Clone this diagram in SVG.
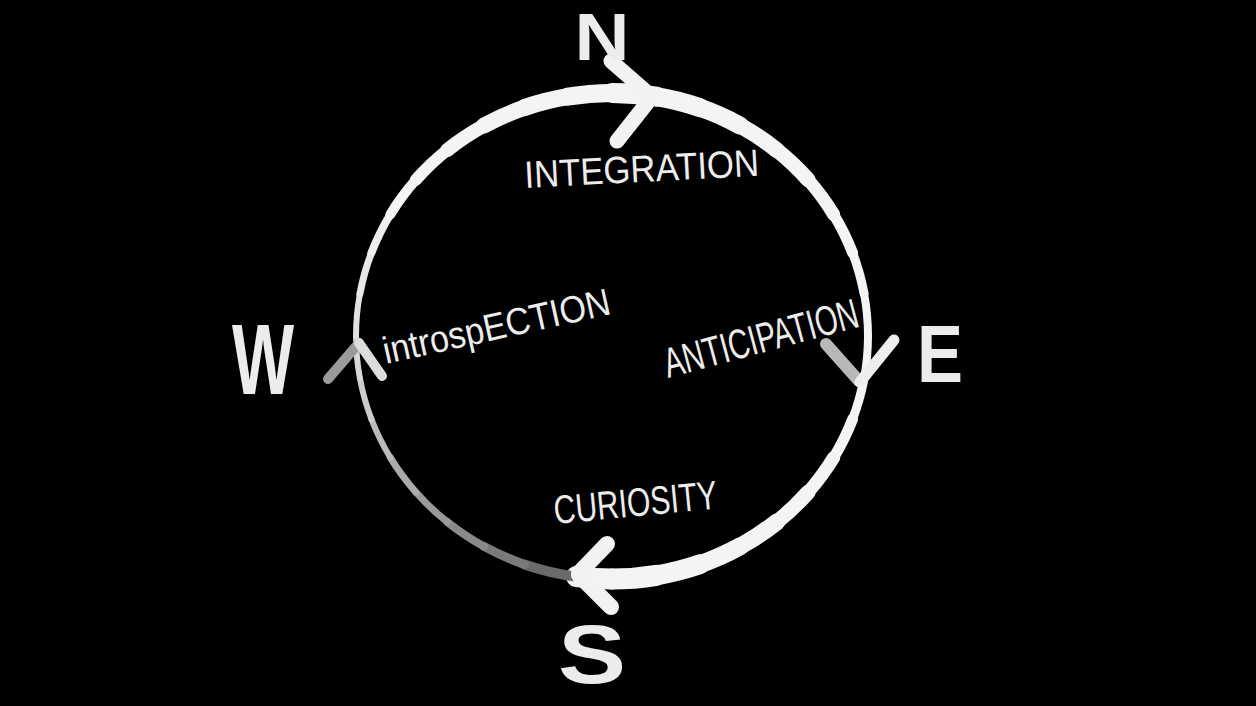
<svg xmlns="http://www.w3.org/2000/svg" width="1256" height="706" viewBox="0 0 1256 706">
<defs>
<style>
.seg{fill:none;stroke-linecap:round}
.head{fill:none;stroke-linecap:round;stroke-linejoin:round}
.compass{font-family:"Liberation Sans",Arial,sans-serif;font-weight:bold;fill:#ececec}
.lbl{font-family:"Liberation Sans",Arial,sans-serif;fill:#ececec}
</style>
<filter id="soft" x="-5%" y="-5%" width="110%" height="110%"><feGaussianBlur stdDeviation="0.7"/></filter>
</defs>
<rect width="1256" height="706" fill="#000"/>
<g id="connectors" filter="url(#soft)">
<g id="cycle-ring">
<path class="seg" stroke="#f4f4f4" stroke-width="20" d="M612 93 A256 243 0 0 1 656.4 96.7"/>
<path class="seg" stroke="#f4f4f4" stroke-width="19" d="M656.4 96.7 A256 243 0 0 1 699.6 107.6"/>
<path class="seg" stroke="#f4f4f4" stroke-width="18" d="M699.6 107.6 A256 243 0 0 1 740 125.6"/>
<path class="seg" stroke="#f4f4f4" stroke-width="16" d="M740 125.6 A256 243 0 0 1 776.6 149.9"/>
<path class="seg" stroke="#f4f4f4" stroke-width="15" d="M776.6 149.9 A256 243 0 0 1 808.1 179.8"/>
<path class="seg" stroke="#f4f4f4" stroke-width="13" d="M808.1 179.8 A256 243 0 0 1 833.7 214.5"/>
<path class="seg" stroke="#f4f4f4" stroke-width="11" d="M833.7 214.5 A256 243 0 0 1 852.6 252.9"/>
<path class="seg" stroke="#f4f4f4" stroke-width="9" d="M852.6 252.9 A256 243 0 0 1 864.1 293.8"/>
<path class="seg" stroke="#f4f4f4" stroke-width="8" d="M864.1 293.8 A256 243 0 0 1 868 336"/>
<path class="seg" stroke="#f4f4f4" stroke-width="8" d="M868 336 A256 243 0 0 1 864.1 378.2"/>
<path class="seg" stroke="#f4f4f4" stroke-width="9" d="M864.1 378.2 A256 243 0 0 1 852.6 419.1"/>
<path class="seg" stroke="#f4f4f4" stroke-width="11" d="M852.6 419.1 A256 243 0 0 1 833.7 457.5"/>
<path class="seg" stroke="#f4f4f4" stroke-width="13" d="M833.7 457.5 A256 243 0 0 1 808.1 492.2"/>
<path class="seg" stroke="#f4f4f4" stroke-width="15" d="M808.1 492.2 A256 243 0 0 1 776.6 522.1"/>
<path class="seg" stroke="#f4f4f4" stroke-width="17" d="M776.6 522.1 A256 243 0 0 1 740 546.4"/>
<path class="seg" stroke="#f4f4f4" stroke-width="18" d="M740 546.4 A256 243 0 0 1 699.6 564.4"/>
<path class="seg" stroke="#f4f4f4" stroke-width="20" d="M699.6 564.4 A256 243 0 0 1 656.4 575.3"/>
<path class="seg" stroke="#f4f4f4" stroke-width="21" d="M656.4 575.3 A256 243 0 0 1 612 579"/>
<path class="seg" stroke="#f4f4f4" stroke-width="21" d="M612 579 A256 243 0 0 1 576.4 576.6"/>
<path class="seg" stroke="#6a6a6a" stroke-width="10" d="M576.4 576.6 A256 243 0 0 1 524.4 564.4"/>
<path class="seg" stroke="#7a7a7a" stroke-width="9" d="M524.4 564.4 A256 243 0 0 1 484 546.4"/>
<path class="seg" stroke="#8a8a8a" stroke-width="8" d="M484 546.4 A256 243 0 0 1 447.4 522.1"/>
<path class="seg" stroke="#9a9a9a" stroke-width="7" d="M447.4 522.1 A256 243 0 0 1 415.9 492.2"/>
<path class="seg" stroke="#aaaaaa" stroke-width="7" d="M415.9 492.2 A256 243 0 0 1 390.3 457.5"/>
<path class="seg" stroke="#bbbbbb" stroke-width="6" d="M390.3 457.5 A256 243 0 0 1 371.4 419.1"/>
<path class="seg" stroke="#cccccc" stroke-width="6" d="M371.4 419.1 A256 243 0 0 1 359.9 378.2"/>
<path class="seg" stroke="#d8d8d8" stroke-width="6" d="M359.9 378.2 A256 243 0 0 1 356 336"/>
<path class="seg" stroke="#e2e2e2" stroke-width="6" d="M356 336 A256 243 0 0 1 359.9 293.8"/>
<path class="seg" stroke="#e8e8e8" stroke-width="7" d="M359.9 293.8 A256 243 0 0 1 371.4 252.9"/>
<path class="seg" stroke="#eeeeee" stroke-width="8" d="M371.4 252.9 A256 243 0 0 1 390.3 214.5"/>
<path class="seg" stroke="#f4f4f4" stroke-width="10" d="M390.3 214.5 A256 243 0 0 1 415.9 179.8"/>
<path class="seg" stroke="#f4f4f4" stroke-width="12" d="M415.9 179.8 A256 243 0 0 1 447.4 149.9"/>
<path class="seg" stroke="#f4f4f4" stroke-width="14" d="M447.4 149.9 A256 243 0 0 1 484 125.6"/>
<path class="seg" stroke="#f4f4f4" stroke-width="16" d="M484 125.6 A256 243 0 0 1 524.4 107.6"/>
<path class="seg" stroke="#f4f4f4" stroke-width="17" d="M524.4 107.6 A256 243 0 0 1 567.6 96.7"/>
<path class="seg" stroke="#f4f4f4" stroke-width="18" d="M567.6 96.7 A256 243 0 0 1 612 93"/>
</g>
<g id="arrow-n">
<path class="head" stroke="#f2f2f2" stroke-width="15" d="M611 61 L651 96"/>
<path class="head" stroke="#f2f2f2" stroke-width="15" d="M651 98 L617 141"/>
</g>
<g id="arrow-e">
<path class="head" stroke="#b8b8b8" stroke-width="12" d="M826 344 L859 381"/>
<path class="head" stroke="#eeeeee" stroke-width="11" d="M894 340 L860 382"/>
</g>
<g id="arrow-s">
<path class="head" stroke="#f2f2f2" stroke-width="16" d="M607 544 L579 573"/>
<path class="head" stroke="#f2f2f2" stroke-width="16" d="M579 575 L611 607"/>
</g>
<g id="arrow-w">
<path class="head" stroke="#9a9a9a" stroke-width="10" d="M328 379 L359 343"/>
<path class="head" stroke="#dddddd" stroke-width="10" d="M359 343 L382 376"/>
</g>
</g>
<g id="node-n"><text class="compass" x="602" y="60" font-size="66" text-anchor="middle" textLength="55" lengthAdjust="spacingAndGlyphs" fill="#d8d8d8">N</text></g>
<g id="node-e"><text class="compass" x="940" y="382" font-size="82" text-anchor="middle" textLength="46" lengthAdjust="spacingAndGlyphs">E</text></g>
<g id="node-s"><text class="compass" x="592" y="683" font-size="84" text-anchor="middle" textLength="68" lengthAdjust="spacingAndGlyphs">S</text></g>
<g id="node-w"><text class="compass" x="263" y="394" font-size="100" text-anchor="middle" textLength="62" lengthAdjust="spacingAndGlyphs">W</text></g>
<g id="label-integration"><text class="lbl" x="525" y="188" font-size="38" textLength="235" lengthAdjust="spacingAndGlyphs" transform="rotate(-3 525 188)">INTEGRATION</text></g>
<g id="label-introspection"><text class="lbl" x="386" y="364" font-size="38" textLength="232" lengthAdjust="spacingAndGlyphs" transform="rotate(-12.5 386 364)">introspECTION</text></g>
<g id="label-anticipation"><text class="lbl" x="668" y="378" font-size="42" textLength="200" lengthAdjust="spacingAndGlyphs" transform="rotate(-15 668 378)">ANTICIPATION</text></g>
<g id="label-curiosity"><text class="lbl" x="555" y="524" font-size="40" textLength="164" lengthAdjust="spacingAndGlyphs" transform="rotate(-5.5 555 524)">CURIOSITY</text></g>
</svg>
